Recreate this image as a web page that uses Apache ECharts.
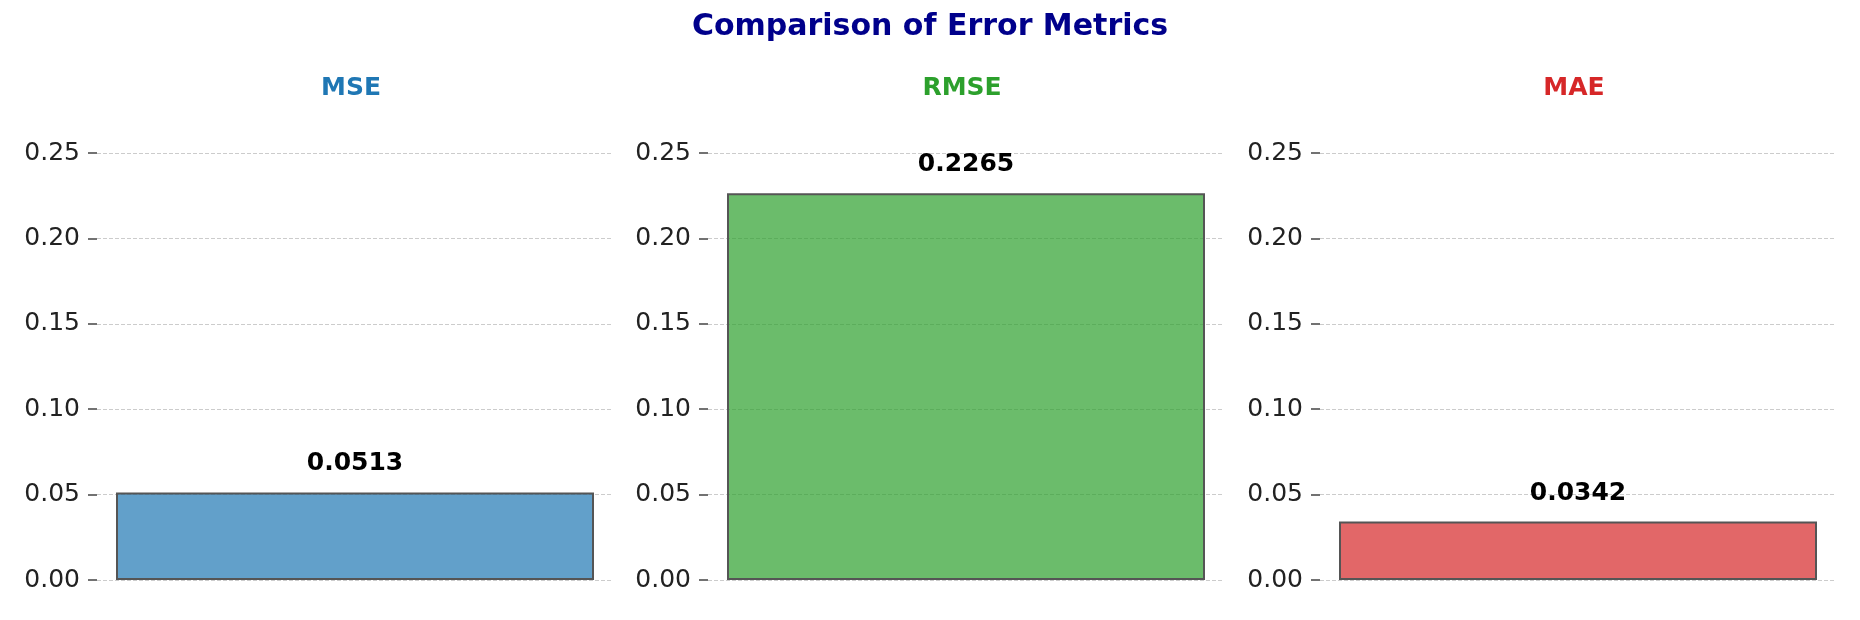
<!DOCTYPE html>
<html lang="en">
<head>
    <meta charset="UTF-8">
    <title>Comparison of Error Metrics</title>
    <script src="https://cdn.jsdelivr.net/npm/echarts@6/dist/echarts.min.js"></script>
    <style>
        html, body { margin: 0; padding: 0; background: #fff; }
        #chart { width: 1860px; height: 620px; }
    </style>
</head>
<body>
    <div id="chart"></div>
    <script>
        // data
        var metrics = ['MSE', 'RMSE', 'MAE'];
        var values = [0.0513, 0.2265, 0.0342];
        var yMin = 0;
        var yMax = 0.25;
        var yStep = 0.05;

        var colors = ['#1f77b4', '#2ca02c', '#d62728'];
        var fills = ['rgba(31,119,180,0.7)', 'rgba(44,160,44,0.7)', 'rgba(214,39,40,0.7)'];
        var lefts = [97, 708, 1320];
        var panelWidth = 516;
        var font = 'DejaVu Sans';

        var titles = [{
            text: 'Comparison of Error Metrics',
            left: 'center',
            top: 7,
            textStyle: { fontFamily: font, fontSize: 30, fontWeight: 'bold', color: '#00008b' }
        }];
        var grids = [], xAxes = [], yAxes = [], series = [];

        metrics.forEach(function (name, i) {
            titles.push({
                text: name,
                left: lefts[i] + panelWidth / 2 - 9,
                textAlign: 'center',
                top: 71,
                textStyle: { fontFamily: font, fontSize: 25, fontWeight: 'bold', color: colors[i] }
            });
            grids.push({ left: lefts[i], width: panelWidth, top: 153, bottom: 40 });
            xAxes.push({
                type: 'category',
                gridIndex: i,
                data: [name],
                show: false
            });
            yAxes.push({
                type: 'value',
                gridIndex: i,
                min: yMin,
                max: yMax,
                interval: yStep,
                axisLine: { show: false },
                axisTick: { show: true, length: 9, lineStyle: { color: '#444', width: 1.5 } },
                axisLabel: {
                    margin: 17,
                    fontFamily: font,
                    fontSize: 25,
                    color: '#222',
                    formatter: function (v) { return v.toFixed(2); }
                },
                splitLine: { lineStyle: { color: '#cccccc', width: 1, type: [4, 2] } }
            });
            series.push({
                type: 'bar',
                xAxisIndex: i,
                yAxisIndex: i,
                data: [values[i]],
                barWidth: 478,
                itemStyle: { color: fills[i], borderColor: '#555', borderWidth: 2 },
                label: {
                    show: true,
                    position: 'top',
                    distance: 16,
                    fontFamily: font,
                    fontSize: 25,
                    fontWeight: 'bold',
                    color: '#000',
                    formatter: function (p) { return p.value.toFixed(4); }
                }
            });
        });

        var chart = echarts.init(document.getElementById('chart'));
        chart.setOption({
            animation: false,
            title: titles,
            grid: grids,
            xAxis: xAxes,
            yAxis: yAxes,
            series: series
        });
    </script>
</body>
</html>
